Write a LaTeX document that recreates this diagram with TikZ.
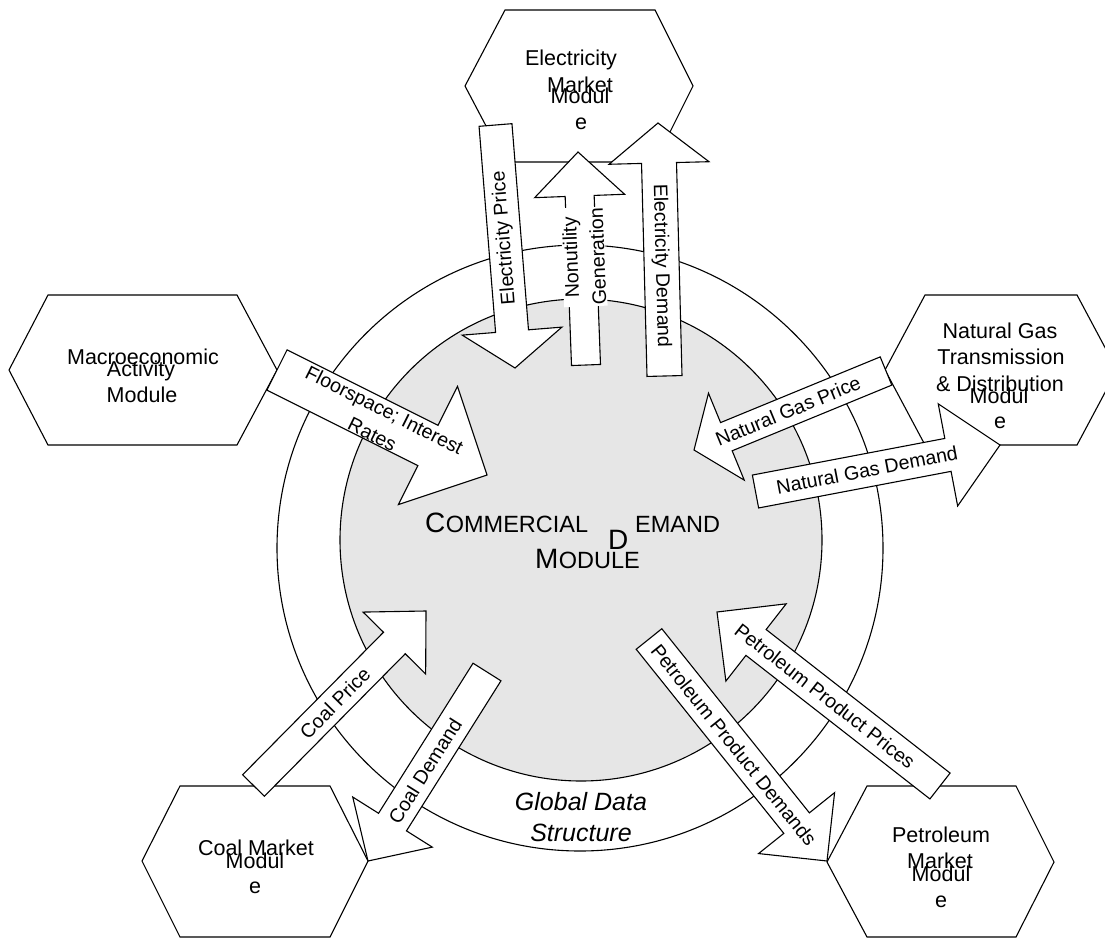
\documentclass[tikz,border=0pt]{standalone}
\usepackage{fontspec}
\setmainfont{Liberation Sans}
\usetikzlibrary{calc}
\definecolor{fillgray}{HTML}{E6E6E6}
\newcommand{\barrow}[6]{%
  \coordinate (#1t) at #2;
  \coordinate (#1p) at #3;
  \coordinate (#1h) at ($(#1p)!#6pt!(#1t)$);
  \draw[blockarrow] ($(#1t)!#4pt!90:(#1p)$) -- ($(#1h)!#4pt!90:(#1p)$) -- ($(#1h)!#5pt!90:(#1p)$) -- (#1p) -- ($(#1h)!#5pt!270:(#1p)$) -- ($(#1h)!#4pt!270:(#1p)$) -- ($(#1t)!#4pt!270:(#1p)$) -- cycle;
}
\begin{document}
\begin{tikzpicture}[x=1pt,y=-1pt,
  blockarrow/.style={draw=black, fill=white, line width=1.1pt, line join=miter},
  hexa/.style={draw=black, fill=white, line width=1.1pt},
  ring/.style={draw=black, line width=1.1pt},
  lbl/.style={inner sep=0pt, font=\fontsize{21.5}{26}\selectfont},
  albl/.style={inner sep=0pt, font=\fontsize{19.6}{27}\selectfont},
  big/.style={inner sep=0pt, anchor=base west, font=\fontsize{28}{30}\selectfont},
  small/.style={inner sep=0pt, anchor=base west, font=\fontsize{23.5}{24}\selectfont},
]
\useasboundingbox (0,0) rectangle (1105,939);
\clip (0,0) rectangle (1105,939);
\fill[white] (0,0) rectangle (1105,939);

% rings
\draw[ring, fill=white] (580,548) circle[radius=303pt];
\draw[ring, fill=fillgray] (581,540) circle[radius=241pt];

% hexagons
\draw[hexa] (505,10) -- (655,10) -- (693,86) -- (655,162) -- (505,162) -- (465,86) -- cycle;
\draw[hexa] (48,295) -- (237,295) -- (277,370) -- (237,445) -- (48,445) -- (9,370) -- cycle;
\draw[hexa] (925,295) -- (1077,295) -- (1117,370) -- (1077,445) -- (925,445) -- (885,370) -- cycle;
\draw[hexa] (180,786) -- (330,786) -- (368,861) -- (330,937) -- (180,937) -- (142,861) -- cycle;
\draw[hexa] (867,786) -- (1016,786) -- (1054,862) -- (1016,937) -- (867,937) -- (827,862) -- cycle;

% hexagon texts
\node[lbl, anchor=base] (el1) at (571,66) {Electricity};
\node[lbl, anchor=base] (el2) at (580,93) {Market};
\node[lbl, anchor=base] (el3) at (580,104) {Modul};
\node[lbl, anchor=base] (el4) at (581,129) {e};

\node[lbl, anchor=base] (ma1) at (143,364) {Macroeconomic};
\node[lbl, anchor=base] (ma2) at (141,376) {Activity};
\node[lbl, anchor=base] (ma3) at (142,402) {Module};

\node[lbl, anchor=base] (ng1) at (1000,338) {Natural Gas};
\node[lbl, anchor=base] (ng2) at (1001,364) {Transmission};
\node[lbl, anchor=base] (ng3) at (1000,391) {\& Distribution};
\node[lbl, anchor=base] (ng4) at (999,403) {Modul};
\node[lbl, anchor=base] (ng5) at (1000,428) {e};

\node[lbl, anchor=base] (co1) at (256,855) {Coal Market};
\node[lbl, anchor=base] (co2) at (255,868) {Modul};
\node[lbl, anchor=base] (co3) at (255,893) {e};

\node[lbl, anchor=base] (pe1) at (941,842) {Petroleum};
\node[lbl, anchor=base] (pe2) at (940,868) {Market};
\node[lbl, anchor=base] (pe3) at (941,881) {Modul};
\node[lbl, anchor=base] (pe4) at (941,907) {e};

% ring text
\node[inner sep=0pt, anchor=base, font=\fontsize{25}{30}\selectfont\itshape] (gd1) at (581,810) {Global Data};
\node[inner sep=0pt, anchor=base, font=\fontsize{25}{30}\selectfont\itshape] (gd2) at (581,841) {Structure};

% centre text
\node[big] (cC) at (425,532) {C};
\node[small] (cO) at (cC.base east) {OMMERCIAL};
\node[big] (cD) at (608,549) {D};
\node[small] (cE) at (635,532) {EMAND};
\node[big] (cM) at (535,568) {M};
\node[small] (cU) at (cM.base east) {ODULE};

% block arrows
\barrow{ep}{(495.5,125)}{(515,368)}{16.5}{50}{37}
\barrow{nu}{(586,365)}{(578,152)}{14.5}{45}{44}
\barrow{ed}{(664.5,376)}{(658,123)}{17.5}{50}{40}
\barrow{fl}{(277,370)}{(487,475)}{22.5}{66}{66}
\barrow{ngp}{(886,371)}{(694,450)}{15.25}{47}{35}
\barrow{ngd}{(755.5,491.5)}{(1000,445)}{16.75}{52}{53}
\barrow{cp}{(253.5,785.5)}{(426,611)}{15.3}{44}{45}
\barrow{cd}{(487,672)}{(368,861)}{16.5}{47}{46}
\barrow{ppd}{(649,639)}{(827,861)}{16.4}{48.7}{48.6}
\barrow{ppp}{(940,786)}{(717,612)}{16.4}{49}{49.5}

% arrow labels
\node[albl, rotate=94.6] (tep) at (504.5,238) {Electricity Price};
\node[albl, rotate=92.2, align=center, fill=white, inner sep=1pt] (tnu) at (584,257) {Nonutility\\Generation};
\node[albl, rotate=-88.5] (ted) at (661,266) {Electricity Demand};
\node[albl, rotate=-26.6, align=center] (tfl) at (378.5,422) {Floorspace; Interest\\Rates};
\node[albl, rotate=22.4] (tngp) at (788,411) {Natural Gas Price};
\node[albl, rotate=10.8] (tngd) at (867,470) {Natural Gas Demand};
\node[albl, rotate=45.3] (tcp) at (335,703) {Coal Price};
\node[albl, rotate=57.8] (tcd) at (425,771) {Coal Demand};
\node[albl, rotate=-51.3] (tppd) at (734,745) {Petroleum Product Demands};
\node[albl, rotate=-38] (tppp) at (825,696) {Petroleum Product Prices};
\end{tikzpicture}
\end{document}
